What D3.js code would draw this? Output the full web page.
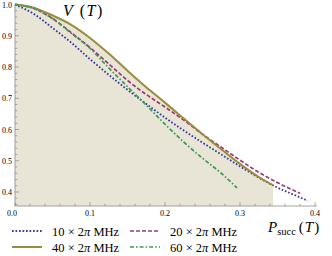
<!DOCTYPE html>
<html lang="en">
<head>
  <meta charset="UTF-8">
  <title>V(T) vs Psucc(T)</title>
  <script src="https://d3js.org/d3.v7.min.js"></script>
  <style>
    body { margin: 0; background: white; }
    svg { display: block; }
    text { font-family: "Liberation Serif", "DejaVu Serif", serif; fill: #000; }
  </style>
</head>
<body>
<script>
  // P_succ(T) sample points and V(T) readings for each drive strength
  const x10 = [0, 0.025, 0.05, 0.075, 0.1, 0.125, 0.15, 0.175, 0.2, 0.225, 0.25, 0.275, 0.3, 0.325, 0.35, 0.375, 0.39];
  const v10 = [1.0, 0.97, 0.925, 0.878, 0.825, 0.775, 0.727, 0.682, 0.638, 0.597, 0.558, 0.52, 0.482, 0.446, 0.414, 0.388, 0.372];

  const x20 = [0, 0.025, 0.05, 0.075, 0.1, 0.125, 0.15, 0.175, 0.2, 0.225, 0.25, 0.275, 0.3, 0.325, 0.35, 0.38];
  const v20 = [1.0, 0.988, 0.955, 0.91, 0.862, 0.81, 0.757, 0.712, 0.672, 0.63, 0.585, 0.543, 0.502, 0.463, 0.43, 0.396];

  const x40 = [0, 0.025, 0.05, 0.075, 0.1, 0.125, 0.15, 0.175, 0.2, 0.225, 0.25, 0.275, 0.3, 0.325, 0.344];
  const v40 = [1.0, 0.99, 0.965, 0.935, 0.893, 0.843, 0.788, 0.735, 0.686, 0.635, 0.585, 0.537, 0.49, 0.448, 0.422];

  const x60 = [0, 0.025, 0.05, 0.075, 0.1, 0.125, 0.15, 0.175, 0.2, 0.225, 0.25, 0.275, 0.296];
  const v60 = [1.0, 0.987, 0.955, 0.908, 0.86, 0.797, 0.737, 0.678, 0.617, 0.56, 0.508, 0.46, 0.413];

  const legendLabels = ["10", "20", "40", "60"];
  const xTicks = [0, 0.1, 0.2, 0.3, 0.4];
  const yTicks = [0.4, 0.5, 0.6, 0.7, 0.8, 0.9, 1.0];

  const width = 332, height = 256;
  const svg = d3.select("body").append("svg")
    .attr("width", width)
    .attr("height", height);

  const x = d3.scaleLinear().domain([0, 0.4]).range([15, 315]);
  const y = d3.scaleLinear().domain([0.3552, 1.0]).range([206, 4.5]);

  const series = [
    { xs: x10, vs: v10, color: "#3d3d9e", dash: "1.7,1.8", width: 1.8 },
    { xs: x20, vs: v20, color: "#993d71", dash: "4,2", width: 1.7 },
    { xs: x40, vs: v40, color: "#998c3d", dash: null, width: 2 },
    { xs: x60, vs: v60, color: "#3d9954", dash: "4,2,1.6,2", width: 1.7 }
  ];

  // shaded region under the 40 MHz curve
  const fillPts = x40.map((d, i) => [d, v40[i]]);
  svg.append("path")
    .datum(fillPts)
    .attr("fill", "#e8e5d6")
    .attr("d", d3.area()
      .x(d => x(d[0]))
      .y0(y(0.3552))
      .y1(d => y(d[1]))
      .curve(d3.curveMonotoneX));

  // axes, Mathematica style: ticks pointing inward
  const axisColor = "#8a8a8a";
  svg.append("line").attr("x1", x(0)).attr("x2", 317).attr("y1", 206).attr("y2", 206)
    .attr("stroke", axisColor).attr("stroke-width", 0.8);
  svg.append("line").attr("x1", x(0)).attr("x2", x(0)).attr("y1", 206).attr("y2", 4)
    .attr("stroke", axisColor).attr("stroke-width", 0.8);

  const xMinor = d3.range(0, 0.401, 0.02);
  svg.selectAll(".xt").data(xMinor).enter().append("line")
    .attr("x1", d => x(d)).attr("x2", d => x(d))
    .attr("y1", 206)
    .attr("y2", (d, i) => 206 - (i % 5 === 0 ? 4 : 2.3))
    .attr("stroke", axisColor).attr("stroke-width", 0.7);

  const yMinor = d3.range(0.36, 1.001, 0.02);
  svg.selectAll(".yt").data(yMinor).enter().append("line")
    .attr("y1", d => y(d)).attr("y2", d => y(d))
    .attr("x1", x(0))
    .attr("x2", d => x(0) + (Math.abs(d * 10 - Math.round(d * 10)) < 1e-6 ? 4 : 2.3))
    .attr("stroke", axisColor).attr("stroke-width", 0.7);

  svg.selectAll(".xl").data(xTicks).enter().append("text")
    .attr("x", d => x(d) - (d === 0 ? 3 : 0))
    .attr("y", 216)
    .attr("text-anchor", "middle")
    .attr("font-size", 8)
    .text(d => d3.format(".1f")(d));

  svg.selectAll(".yl").data(yTicks).enter().append("text")
    .attr("x", 12)
    .attr("y", d => y(d) + 3)
    .attr("text-anchor", "end")
    .attr("font-size", 8)
    .text(d => d3.format(".1f")(d));

  // curves
  series.forEach(s => {
    svg.append("path")
      .datum(s.xs.map((d, i) => [d, s.vs[i]]))
      .attr("fill", "none")
      .attr("stroke", s.color)
      .attr("stroke-width", s.width)
      .attr("stroke-dasharray", s.dash)
      .attr("d", d3.line().x(d => x(d[0])).y(d => y(d[1])).curve(d3.curveMonotoneX));
  });

  // axis labels
  const vLab = svg.append("text").attr("x", 63).attr("y", 16).attr("font-size", 16);
  vLab.append("tspan").attr("font-style", "italic").text("V");
  vLab.append("tspan").attr("dx", 7).text("(");
  vLab.append("tspan").attr("font-style", "italic").attr("dx", 1.5).text("T");
  vLab.append("tspan").attr("dx", 1.5).text(")");

  const pLab = svg.append("text").attr("x", 268).attr("y", 232).attr("font-size", 15);
  pLab.append("tspan").attr("font-style", "italic").text("P");
  pLab.append("tspan").attr("font-size", 10.5).attr("dy", 3).text("succ");
  pLab.append("tspan").attr("dy", -3).attr("dx", 3).text("(");
  pLab.append("tspan").attr("font-style", "italic").attr("dx", 1).text("T");
  pLab.append("tspan").attr("dx", 1).text(")");

  // legend
  const legX = [12, 130], legY = [231, 247];
  series.forEach((s, i) => {
    const lx = legX[i % 2], ly = legY[Math.floor(i / 2)];
    svg.append("line")
      .attr("x1", lx).attr("x2", lx + 30).attr("y1", ly).attr("y2", ly)
      .attr("stroke", s.color).attr("stroke-width", s.width)
      .attr("stroke-dasharray", s.dash);
    const t = svg.append("text").attr("x", lx + 40).attr("y", ly + 4.5).attr("font-size", 12.5);
    t.append("tspan").text(legendLabels[i] + " × 2");
    t.append("tspan").attr("font-style", "italic").text("π");
    t.append("tspan").text(" MHz");
  });
</script>
</body>
</html>
